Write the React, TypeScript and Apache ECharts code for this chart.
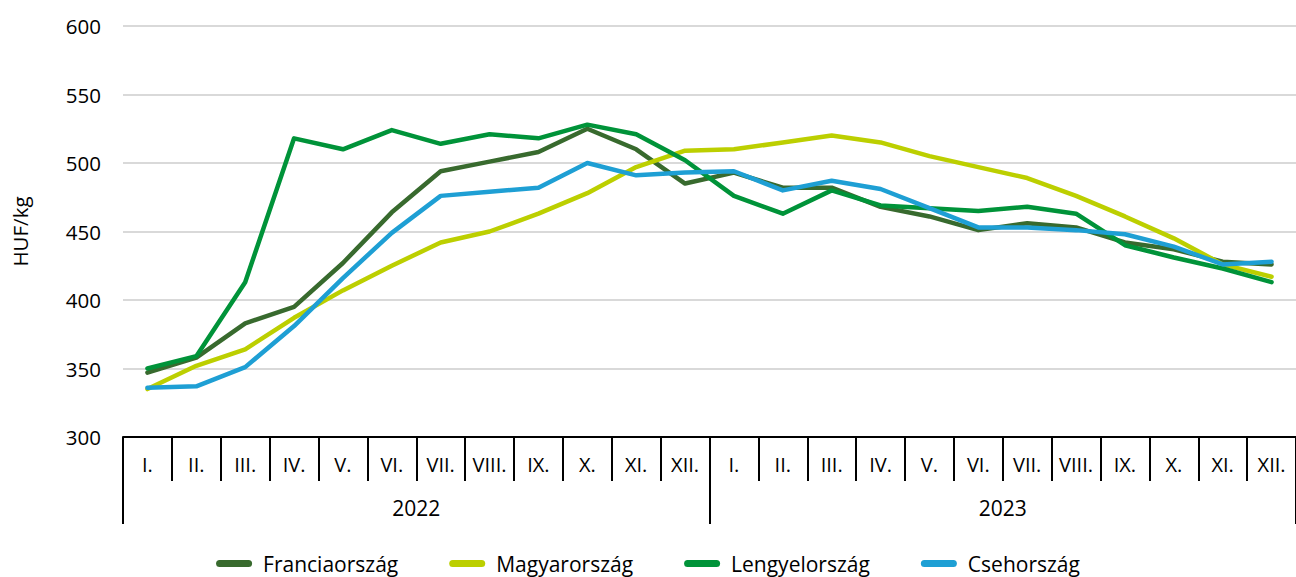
import React, { useEffect, useRef } from "react";
import * as echarts from "echarts";

const months = ["I.", "II.", "III.", "IV.", "V.", "VI.", "VII.", "VIII.", "IX.", "X.", "XI.", "XII.",
  "I.", "II.", "III.", "IV.", "V.", "VI.", "VII.", "VIII.", "IX.", "X.", "XI.", "XII."];
const years = ["2022", "2023"];

const francia = [347, 358, 383, 395, 427, 464, 494, 501, 508, 525, 510, 485, 493, 482, 482, 468, 461, 451, 456, 453, 442, 437, 428, 426];
const magyar = [335, 352, 364, 387, 407, 425, 442, 450, 463, 478, 497, 509, 510, 515, 520, 515, 505, 497, 489, 476, 461, 445, 426, 417];
const lengyel = [350, 359, 413, 518, 510, 524, 514, 521, 518, 528, 521, 502, 476, 463, 480, 469, 467, 465, 468, 463, 440, 431, 423, 413];
const cseh = [336, 337, 351, 381, 416, 449, 476, 479, 482, 500, 491, 493, 494, 480, 487, 481, 467, 453, 453, 451, 448, 439, 426, 428];

const seriesNames = ["Franciaország", "Magyarország", "Lengyelország", "Csehország"];
const seriesColors = ["#386a2e", "#bccf00", "#009339", "#1e9fd4"];
const yTicks = { min: 300, max: 600, interval: 50 };

const FONT = "'Open Sans', sans-serif";

export default function App() {
  const ref = useRef<HTMLDivElement>(null);
  useEffect(() => {
    if (!ref.current) return;
    const chart = echarts.init(ref.current, undefined, { renderer: "svg" });
    const data = [francia, magyar, lengyel, cseh];
    chart.setOption({
      animation: false,
      backgroundColor: "#ffffff",
      textStyle: { fontFamily: FONT },
      grid: { left: 123, right: 0, top: 26, bottom: 140, containLabel: false },
      legend: {
        top: 548,
        left: "center",
        itemWidth: 36,
        itemHeight: 7,
        itemGap: 51,
        icon: "path://M3.5,0 H32.5 A3.5,3.5 0 0 1 32.5,7 H3.5 A3.5,3.5 0 0 1 3.5,0 Z",
        textStyle: { fontSize: 21, color: "#000", fontFamily: FONT, padding: [0, 0, 0, 6] },
        data: seriesNames,
      },
      xAxis: [
        {
          type: "category",
          data: months,
          position: "bottom",
          boundaryGap: true,
          axisLine: { show: true, lineStyle: { color: "#000", width: 2 } },
          axisTick: { show: true, length: 44, interval: 0, lineStyle: { color: "#000", width: 2 } },
          axisLabel: { interval: 0, margin: 17, fontSize: 20, color: "#000", fontFamily: FONT },
          splitLine: { show: false },
        },
        {
          type: "category",
          data: years,
          position: "bottom",
          boundaryGap: true,
          axisLine: { show: false },
          axisTick: { show: true, length: 87, interval: 0, lineStyle: { color: "#000", width: 2 } },
          axisLabel: { interval: 0, margin: 60, fontSize: 21, color: "#000", fontFamily: FONT },
          splitLine: { show: false },
        },
      ],
      yAxis: {
        type: "value",
        min: yTicks.min,
        max: yTicks.max,
        interval: yTicks.interval,
        name: "HUF/kg",
        nameLocation: "middle",
        nameGap: 93,
        nameRotate: 90,
        nameTextStyle: { fontSize: 20.5, color: "#000", fontFamily: FONT },
        axisLine: { show: false },
        axisTick: { show: false },
        axisLabel: { margin: 22, fontSize: 20.5, color: "#000", fontFamily: FONT },
        splitLine: { show: true, lineStyle: { color: "#d9d9d9", width: 2 } },
      },
      series: seriesNames.map((name, i) => ({
        name,
        type: "line",
        data: data[i],
        symbol: "none",
        smooth: false,
        color: seriesColors[i],
        lineStyle: { width: 4.5, color: seriesColors[i], cap: "round", join: "round" },
      })),
    });
    return () => chart.dispose();
  }, []);
  return <div ref={ref} style={{ position: "fixed", left: 0, top: 0, width: 1296, height: 577 }} />;
}
